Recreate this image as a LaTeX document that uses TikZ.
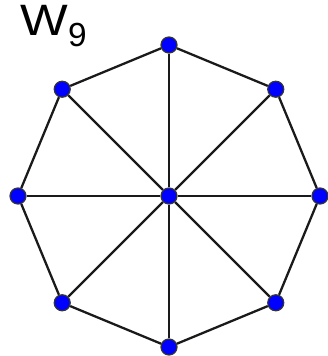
\documentclass[tikz,border=0pt]{standalone}
\usepackage{fontspec}
\setmainfont{Liberation Sans}
\usetikzlibrary{positioning, backgrounds}
\definecolor{vertexblue}{HTML}{0000FF}
\definecolor{edgegray}{HTML}{1A1A1A}

\begin{document}
\begin{tikzpicture}[x=0.02cm, y=0.02cm,
    vertex/.style={circle, fill=vertexblue, draw=black!80, line width=0.7pt,
                   inner sep=0pt, minimum size=0.32cm},
    edge/.style={draw=edgegray, line width=1.3pt}]
  \useasboundingbox (-169,-160) rectangle (159,196);

  % hub and rim
  \node[vertex] (c) at (0,0) {};
  \foreach \i in {1,...,8}
    \node[vertex] (v\i) at ({90-45*(\i-1)}:151) {};

  % title
  \node[anchor=base west, inner sep=0pt, font=\fontsize{25}{30}\selectfont]
    (title) at (-149,161) {\scalebox{1.15}[1]{W}\raisebox{-0.24cm}{\fontsize{19}{19}\selectfont 9}};

  \begin{scope}[on background layer]
    \foreach \i [remember=\i as \j (initially 8)] in {1,...,8} {
      \draw[edge] (c) -- (v\i);
      \draw[edge] (v\j) -- (v\i);
    }
  \end{scope}
\end{tikzpicture}
\end{document}
